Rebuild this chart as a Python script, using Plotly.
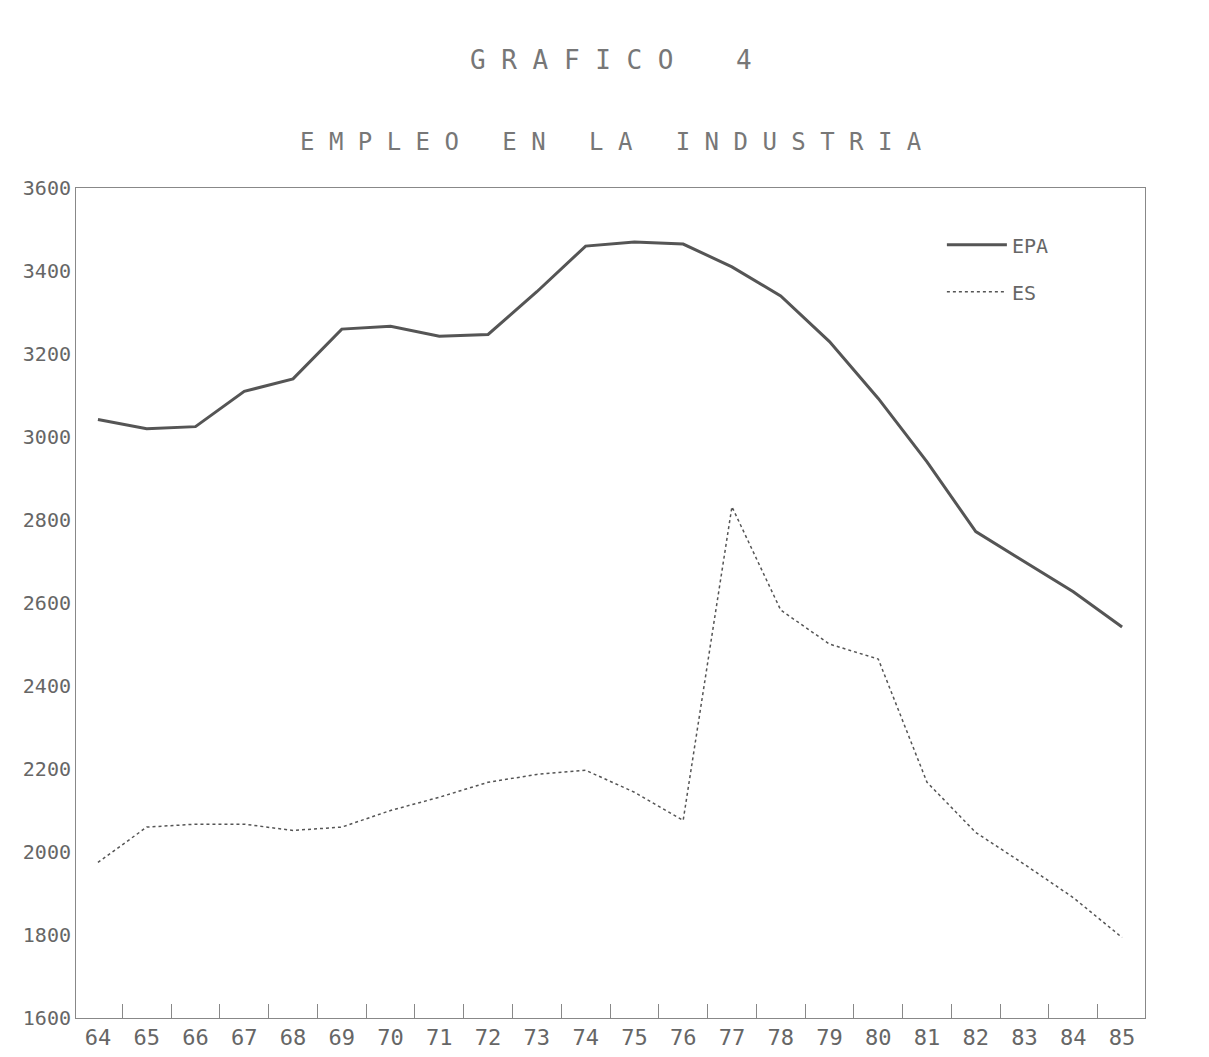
import plotly.graph_objects as go

years = list(range(64, 86))
year_labels = [str(y) for y in years]
epa = [3042, 3020, 3025, 3110, 3140, 3260, 3267, 3243, 3247, 3350, 3460, 3470, 3465,
       3410, 3340, 3230, 3093, 2940, 2772, 2700, 2627, 2542]
es = [1975, 2060, 2067, 2067, 2052, 2060, 2100, 2132, 2168, 2187, 2197, 2144, 2076,
      2832, 2583, 2501, 2465, 2168, 2047, 1970, 1890, 1794]
y_ticks = [1600, 1800, 2000, 2200, 2400, 2600, 2800, 3000, 3200, 3400, 3600]

fig = go.Figure()
fig.add_trace(go.Scatter(x=years, y=epa, name="EPA", mode="lines", legendgroup="a",
                         line=dict(color="#555", width=3)))
fig.add_trace(go.Scatter(x=years, y=es, name="ES", mode="lines", legendgroup="b",
                         line=dict(color="#555", width=1.5, dash="dot")))
font = "DejaVu Sans Mono"
fig.update_layout(
    width=1209, height=1057, paper_bgcolor="white", plot_bgcolor="white",
    margin=dict(l=68, r=72, t=180, b=47),
    font=dict(family=font, color="#666", size=20),
    showlegend=True,
    legend=dict(x=0.81, y=0.955, xanchor="left", yanchor="top", bgcolor="rgba(0,0,0,0)",
                font=dict(size=20, color="#666"), tracegroupgap=18, itemwidth=60),
)
fig.layout.annotations = [
    dict(text="G R A F I C O    4", x=0.5, y=1.175, xref="paper", yref="paper",
         showarrow=False, font=dict(size=26, color="#777", family=font)),
    dict(text="E M P L E O   E N   L A   I N D U S T R I A", x=0.5, y=1.075,
         xref="paper", yref="paper", showarrow=False,
         font=dict(size=24, color="#777", family=font)),
]
fig.update_xaxes(range=[63.55, 85.47], tickvals=years, ticktext=year_labels,
                 showgrid=False, showline=True, linecolor="#888", mirror=True,
                 ticks="", zeroline=False, tickfont=dict(size=22),
                 minor=dict(tickvals=[y + 0.5 for y in years[:-1]], ticks="inside",
                            ticklen=14, tickcolor="#888"))
fig.update_yaxes(range=[1600, 3600], tickvals=y_ticks, showgrid=False, showline=True,
                 linecolor="#888", mirror=True, ticks="", zeroline=False,
                 tickfont=dict(size=20))
fig.write_html("out.html")
